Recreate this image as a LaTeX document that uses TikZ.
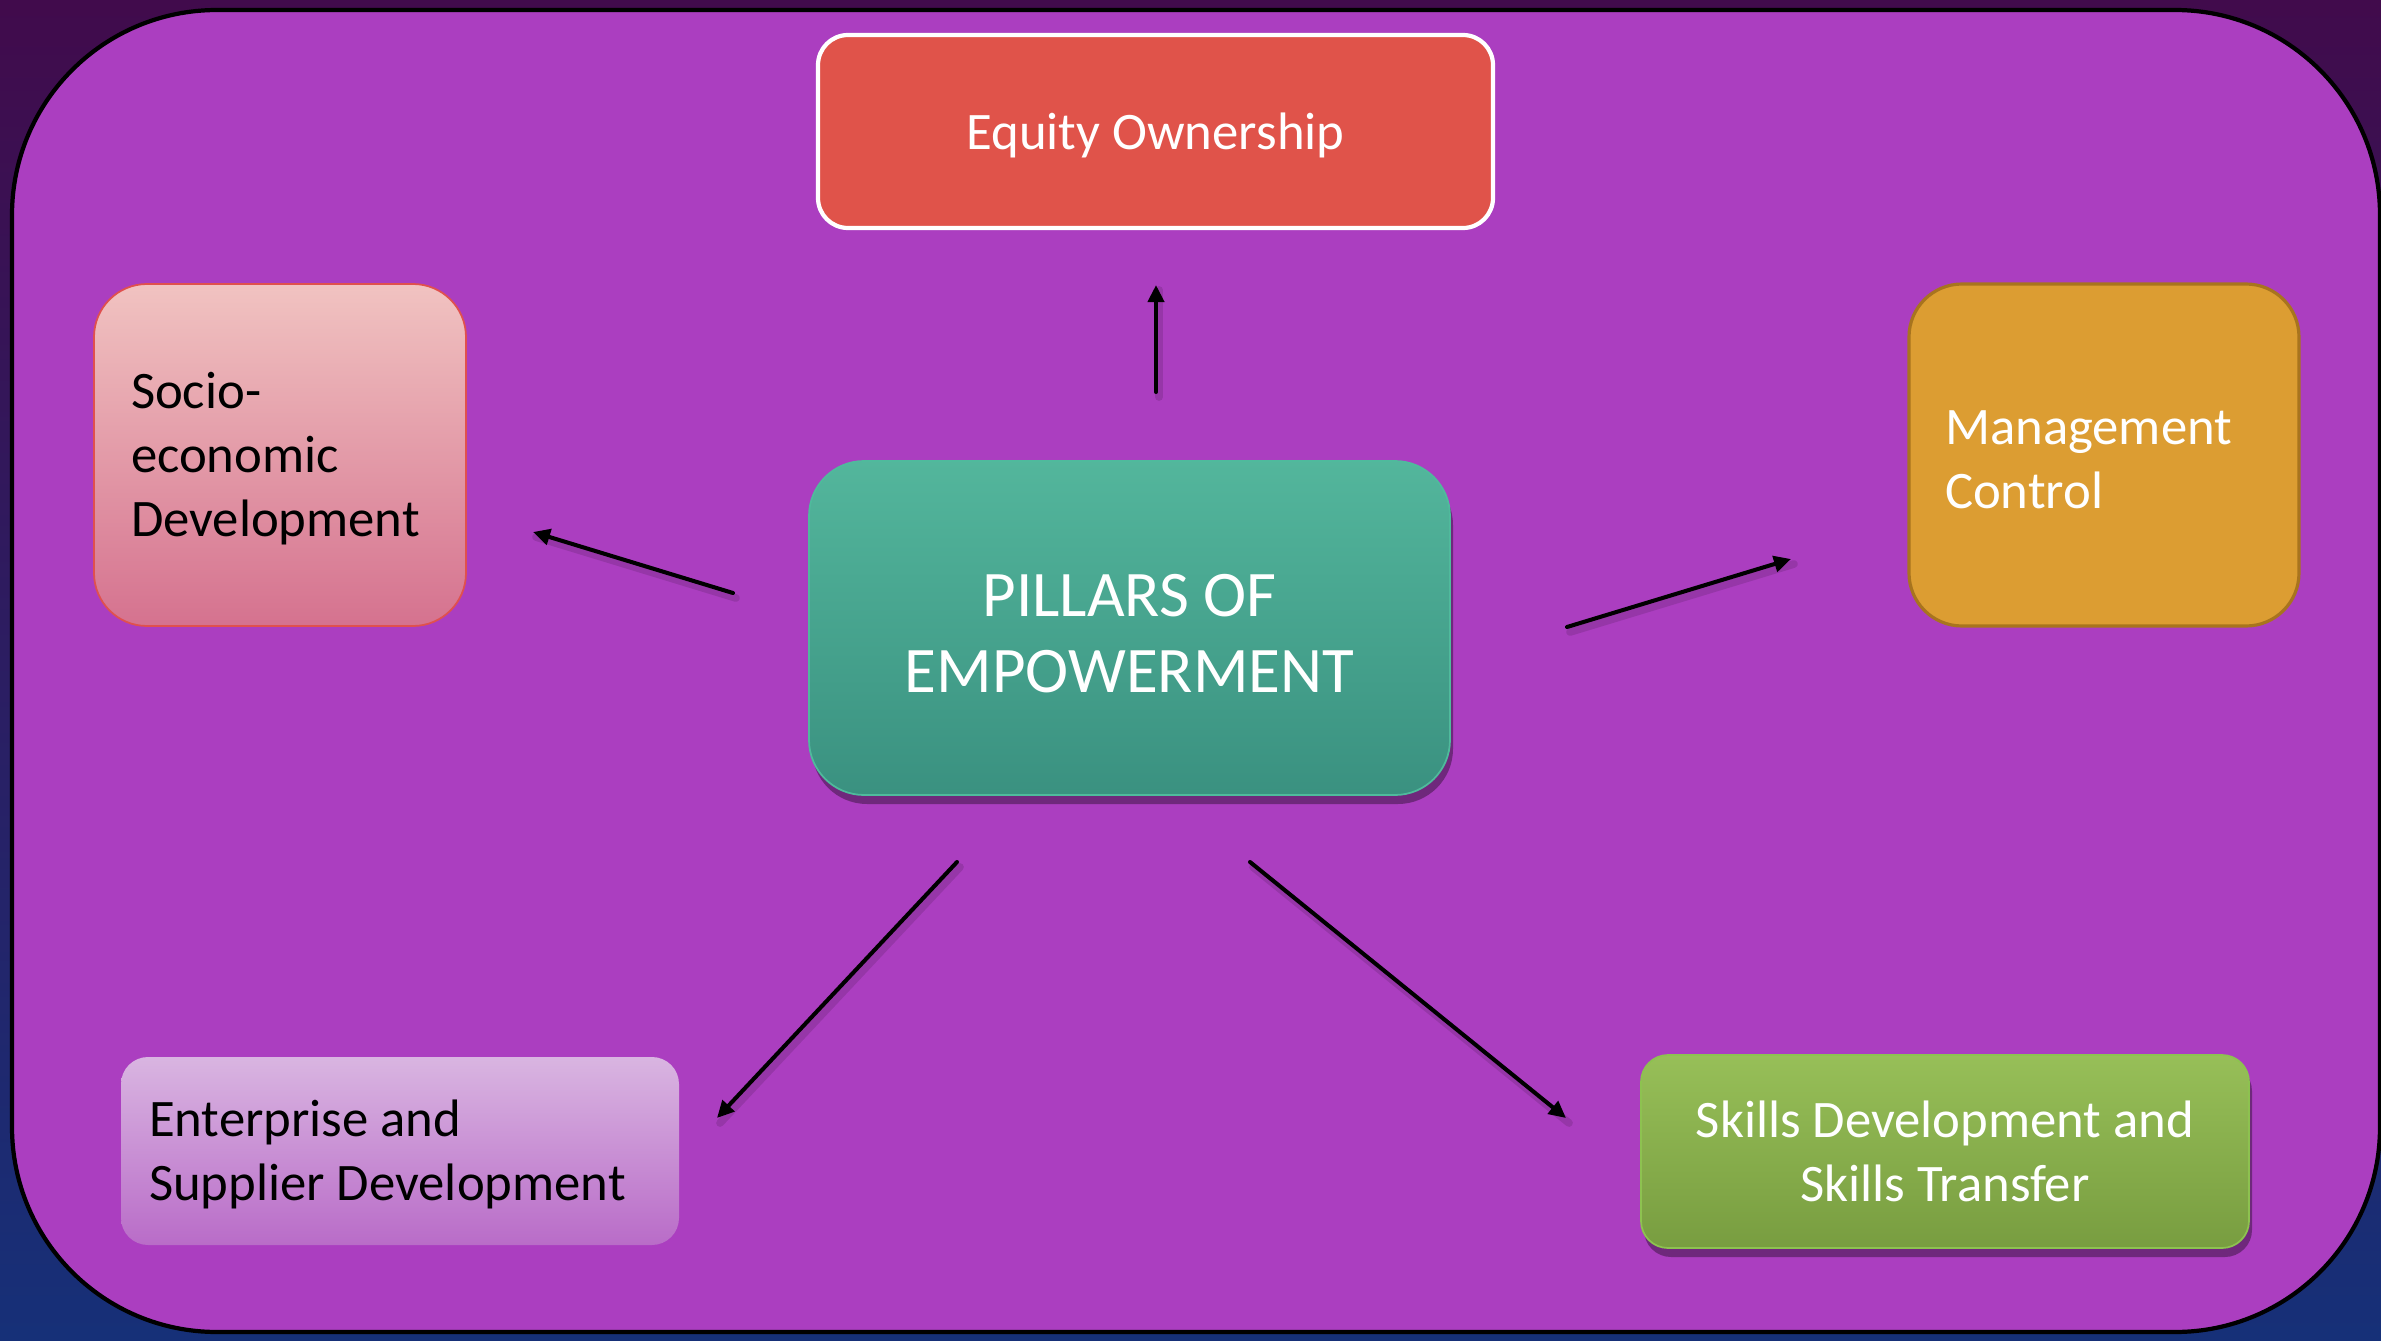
\documentclass[tikz,border=0pt]{standalone}
\usepackage{fontspec}
\setmainfont{Carlito}
\usetikzlibrary{arrows.meta,shadows}
\definecolor{panel}{HTML}{AB3EC0}
\definecolor{bgtop}{HTML}{410B4C}
\definecolor{bgmid}{HTML}{2E1C62}
\definecolor{bgbot}{HTML}{163078}
\definecolor{eqfill}{HTML}{E0534A}
\definecolor{sotop}{HTML}{F1C3C1}
\definecolor{sobot}{HTML}{D5728F}
\definecolor{soline}{HTML}{E0504E}
\definecolor{mgfill}{HTML}{DC9D32}
\definecolor{mgline}{HTML}{A8741E}
\definecolor{pitop}{HTML}{53B69C}
\definecolor{pibot}{HTML}{3A9180}
\definecolor{piline}{HTML}{4FBA9C}
\definecolor{entop}{HTML}{D9B5E1}
\definecolor{enbot}{HTML}{B96CC8}
\definecolor{sktop}{HTML}{97BF58}
\definecolor{skbot}{HTML}{789D40}
\definecolor{skline}{HTML}{8DC250}
\newcommand\liftline{\rule{0pt}{\dimexpr\fontcharht\font`h+2.2pt\relax}}
\newcommand\plainleft{\spaceskip=0pt\xspaceskip=0pt\noindent}
\tikzset{
  basebox/.style={inner sep=0pt, font=\fontsize{15}{18.2}\selectfont},
  equitybox/.style={basebox, rounded corners=3mm, fill=eqfill, draw=white, line width=1.2pt, text=white, align=center},
  sociobox/.style={basebox, rounded corners=5.3mm, top color=sotop, bottom color=sobot, draw=soline, line width=0.5pt, text=black},
  mgmtbox/.style={basebox, rounded corners=5.3mm, fill=mgfill, draw=mgline, line width=0.9pt, text=white},
  pillarbox/.style={inner sep=0pt, font=\fontsize{18.5}{21.6}\selectfont, rounded corners=5.5mm, top color=pitop, bottom color=pibot, draw=piline, line width=0.5pt, text=white, align=center,
     drop shadow={shadow xshift=0.3mm, shadow yshift=-0.9mm, opacity=0.35, fill=black}},
  entbox/.style={basebox, rounded corners=2.7mm, top color=entop, bottom color=enbot, text=black},
  skillbox/.style={basebox, rounded corners=2.7mm, top color=sktop, bottom color=skbot, draw=skline, line width=0.5pt, text=white, align=center,
     drop shadow={shadow xshift=0.3mm, shadow yshift=-0.9mm, opacity=0.35, fill=black}},
  pointer/.style={line width=1.15pt, line cap=round, draw=black, -{Triangle[length=1.7mm,width=1.6mm]}},
  pointershade/.style={line width=2.2pt, line cap=round, draw=black, opacity=0.12}
}
\begin{document}
\begin{tikzpicture}[x=0.1mm,y=-0.1mm]
  % slide background
  \shade[top color=bgtop, middle color=bgmid, bottom color=bgbot] (0,0) rectangle (2381,1341);
  \useasboundingbox (0,0) rectangle (2381,1341);
  % main panel
  \draw[fill=panel, draw=black, line width=1.2pt, rounded corners=20.5mm] (12,10) rectangle (2380,1332);

  % boxes
  \node[equitybox, minimum width=67.5mm, minimum height=19.3mm] (eq) at (1155.5,131.5) {\liftline Equity Ownership};
  \node[sociobox, minimum width=37.2mm, minimum height=34.2mm, inner xsep=3.7mm, text width=29.8mm] (soc) at (280,455) {\plainleft\liftline Socio-\\economic\\Development};
  \node[mgmtbox, minimum width=39mm, minimum height=34.2mm, inner xsep=3.6mm, text width=31.8mm] (mgt) at (2104,455) {\plainleft\liftline Management\\Control};
  \node[pillarbox, minimum width=64.1mm, minimum height=33.4mm] (pil) at (1129.5,628) {\liftline PILLARS OF\\EMPOWERMENT};
  \node[entbox, minimum width=55.8mm, minimum height=18.8mm, inner xsep=2.8mm, text width=50.2mm] (ent) at (400,1151) {\plainleft\liftline Enterprise and\\Supplier Development};
  \node[skillbox, minimum width=60.8mm, minimum height=19.3mm] (skl) at (1945,1151.5) {Skills Development and\\Skills Transfer};

  % arrow end points
  \coordinate (upS) at (1156,392);  \coordinate (upE) at (1156,285);
  \coordinate (lfS) at (733,593);   \coordinate (lfE) at (533,532);
  \coordinate (rtS) at (1567,627);  \coordinate (rtE) at (1791,559);
  \coordinate (dlS) at (957,862);   \coordinate (dlE) at (717,1118);
  \coordinate (drS) at (1250,862);  \coordinate (drE) at (1566,1118);

  % faint shadows of arrows
  \foreach \s/\e in {upS/upE, lfS/lfE, rtS/rtE, dlS/dlE, drS/drE}
    \draw[pointershade, transform canvas={xshift=0.3mm, yshift=-0.5mm}] (\s) -- (\e);

  % arrows
  \draw[pointer] (upS) -- (upE);
  \draw[pointer] (lfS) -- (lfE);
  \draw[pointer] (rtS) -- (rtE);
  \draw[pointer] (dlS) -- (dlE);
  \draw[pointer] (drS) -- (drE);
\end{tikzpicture}
\end{document}
